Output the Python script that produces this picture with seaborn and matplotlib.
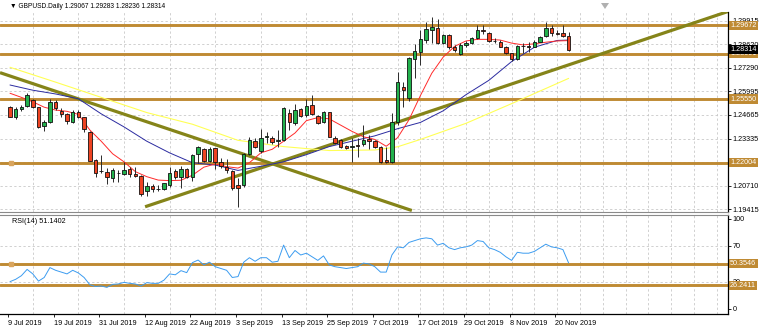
import matplotlib
matplotlib.use("Agg")
import matplotlib.pyplot as plt
import matplotlib.transforms as mtransforms
from matplotlib.patches import Polygon
import pandas as pd
import seaborn as sns

sns.set_theme(style="white")
plt.rcParams["font.family"] = ["Liberation Sans", "DejaVu Sans"]

# ---- data -------------------------------------------------------------
symbol = "GBPUSD.Daily"
dates = pd.bdate_range("2019-07-09", "2019-11-22")

opens = [1.2513, 1.2457, 1.2498, 1.2517, 1.2550, 1.2509, 1.2405, 1.2427, 1.2537, 1.2489,
         1.2472, 1.2429, 1.2483, 1.2454, 1.2373, 1.2215, 1.2154, 1.2150, 1.2113, 1.2142,
         1.2135, 1.2167, 1.2135, 1.2126, 1.2044, 1.2070, 1.2055, 1.2051, 1.2076, 1.2154,
         1.2118, 1.2163, 1.2118, 1.2249, 1.2277, 1.2210, 1.2280, 1.2202, 1.2178, 1.2154,
         1.2077, 1.2076, 1.2249, 1.2323, 1.2267, 1.2342, 1.2340, 1.2323, 1.2327, 1.2476,
         1.2420, 1.2498, 1.2465, 1.2520, 1.2461, 1.2429, 1.2482, 1.2340, 1.2327, 1.2293,
         1.2290, 1.2297, 1.2303, 1.2331, 1.2321, 1.2290, 1.2215, 1.2202, 1.2430, 1.2621,
         1.2560, 1.2777, 1.2820, 1.2885, 1.2941, 1.2954, 1.2867, 1.2913, 1.2848, 1.2807,
         1.2856, 1.2867, 1.2895, 1.2939, 1.2926, 1.2882, 1.2876, 1.2848, 1.2811, 1.2777,
         1.2854, 1.2850, 1.2848, 1.2876, 1.2908, 1.2951, 1.2924, 1.2923, 1.29067]
highs = [1.2516, 1.2509, 1.2522, 1.2588, 1.2556, 1.2513, 1.2439, 1.2554, 1.2550, 1.2504,
         1.2476, 1.2494, 1.2494, 1.2457, 1.2379, 1.2221, 1.2243, 1.2169, 1.2169, 1.2159,
         1.2206, 1.2178, 1.2174, 1.2131, 1.2094, 1.2079, 1.2076, 1.2089, 1.2178, 1.2165,
         1.2182, 1.2169, 1.2249, 1.2293, 1.2280, 1.2286, 1.2284, 1.2224, 1.2221, 1.2159,
         1.2113, 1.2256, 1.2345, 1.2336, 1.2386, 1.2373, 1.2349, 1.2383, 1.2509, 1.2500,
         1.2528, 1.2504, 1.2554, 1.2578, 1.2467, 1.2491, 1.2485, 1.2349, 1.2331, 1.2299,
         1.2336, 1.2336, 1.2411, 1.2355, 1.2327, 1.2293, 1.2290, 1.2476, 1.2705, 1.2653,
         1.2789, 1.2863, 1.2941, 1.2988, 1.3016, 1.3001, 1.2919, 1.2917, 1.2857, 1.2867,
         1.2882, 1.2904, 1.2969, 1.2969, 1.2932, 1.2895, 1.2885, 1.2852, 1.2814, 1.2857,
         1.2867, 1.2876, 1.2885, 1.2908, 1.2988, 1.2969, 1.2941, 1.2969, 1.29283]
lows = [1.2455, 1.2442, 1.2491, 1.2513, 1.2508, 1.2392, 1.2379, 1.2424, 1.2494, 1.2454,
        1.2416, 1.2420, 1.2448, 1.2374, 1.2210, 1.2118, 1.2141, 1.2081, 1.2090, 1.2094,
        1.2131, 1.2122, 1.2118, 1.2014, 1.2016, 1.2038, 1.2044, 1.2048, 1.2066, 1.2107,
        1.2061, 1.2113, 1.2100, 1.2200, 1.2206, 1.2204, 1.2167, 1.2169, 1.2141, 1.2048,
        1.1955, 1.2066, 1.2243, 1.2280, 1.2256, 1.2308, 1.2304, 1.2286, 1.2323, 1.2383,
        1.2411, 1.2457, 1.2457, 1.2467, 1.2414, 1.2424, 1.2342, 1.2305, 1.2284, 1.2275,
        1.2206, 1.2230, 1.2293, 1.2275, 1.2280, 1.2197, 1.2197, 1.2200, 1.2410, 1.2513,
        1.2547, 1.2671, 1.2746, 1.2867, 1.2867, 1.2861, 1.2861, 1.2833, 1.2820, 1.2802,
        1.2848, 1.2863, 1.2891, 1.2919, 1.2876, 1.2867, 1.2844, 1.2807, 1.2770, 1.2774,
        1.2811, 1.2820, 1.2844, 1.2872, 1.2904, 1.2908, 1.2913, 1.2900, 1.28236]
closes = [1.2457, 1.2498, 1.2513, 1.2578, 1.2513, 1.2401, 1.2429, 1.2541, 1.2504, 1.2472,
          1.2435, 1.2483, 1.2454, 1.2387, 1.2212, 1.2141, 1.2152, 1.2122, 1.2159, 1.2140,
          1.2159, 1.2135, 1.2126, 1.2023, 1.2070, 1.2053, 1.2053, 1.2085, 1.2141, 1.2122,
          1.2163, 1.2118, 1.2241, 1.2290, 1.2210, 1.2278, 1.2206, 1.2184, 1.2159, 1.2057,
          1.2057, 1.2249, 1.2327, 1.2286, 1.2336, 1.2347, 1.2318, 1.2327, 1.2504, 1.2426,
          1.2494, 1.2463, 1.2519, 1.2470, 1.2420, 1.2482, 1.2346, 1.2312, 1.2290, 1.2280,
          1.2295, 1.2293, 1.2327, 1.2321, 1.2290, 1.2206, 1.2202, 1.2429, 1.2650, 1.2606,
          1.2783, 1.2824, 1.2889, 1.2945, 1.2956, 1.2867, 1.2913, 1.2848, 1.2830, 1.2857,
          1.2871, 1.2895, 1.2941, 1.2936, 1.2882, 1.2878, 1.2848, 1.2811, 1.2777, 1.2852,
          1.2850, 1.2848, 1.2876, 1.2900, 1.2951, 1.2923, 1.2921, 1.2907, 1.28314]

# moving averages shown on the price window (bar index, value)
ma_fast_bar = list(range(0, 99, 2))
ma_fast = [1.2588, 1.2565, 1.2540, 1.2510, 1.2494, 1.2487, 1.2470, 1.2383, 1.2320, 1.2250,
           1.2205, 1.2150, 1.2122, 1.2103, 1.2100, 1.2102, 1.2130, 1.2175, 1.2193, 1.2178,
           1.2170, 1.2200, 1.2255, 1.2275, 1.2320, 1.2366, 1.2435, 1.2452, 1.2445, 1.2410,
           1.2375, 1.2345, 1.2330, 1.2292, 1.2340, 1.2440, 1.2575, 1.2700, 1.2790, 1.2850,
           1.2880, 1.2889, 1.2889, 1.2885, 1.2868, 1.2858, 1.2864, 1.2873, 1.2880, 1.2882]
ma_slow_bar = list(range(0, 97, 4)) + [98]
ma_slow = [1.2634, 1.2605, 1.2584, 1.2557, 1.2473, 1.2400, 1.2320, 1.2255, 1.2200, 1.2187,
           1.2157, 1.2180, 1.2205, 1.2245, 1.2290, 1.2320, 1.2350, 1.2390, 1.2425, 1.2490,
           1.2580, 1.2660, 1.2765, 1.2845, 1.2883, 1.2885]
ma_long_bar = [0, 8, 16, 24, 32, 40, 48, 56, 64, 68, 72, 80, 88, 98]
ma_long = [1.2733, 1.2650, 1.2565, 1.2480, 1.2415, 1.2325, 1.2290, 1.2268, 1.2271, 1.2289,
           1.2330, 1.2420, 1.2530, 1.2671]

rsi = [30.4, 33, 37, 44, 39, 31, 35, 46, 43, 41, 39, 43, 40, 35, 27, 25, 25.6, 24, 27.4, 27.8,
       29.6, 28.5, 27.8, 25.6, 29.3, 28.5, 28.5, 32, 39, 38, 42.6, 40.4, 51.5, 54.4, 49, 52, 47,
       45, 43, 35, 36, 52, 57, 53, 57, 57, 52, 53, 71, 57, 65, 60, 62, 58, 54, 59, 49, 47, 46,
       45, 46, 47, 51, 50, 47, 41, 41, 60, 69, 68, 74, 76, 78, 79, 78, 71, 73, 68, 66, 68, 69,
       71, 76, 75, 68, 66, 63, 58, 54, 63, 62, 62, 64, 68, 72, 69, 68, 66, 51.1402]

price_levels = [1.29672, 1.28091, 1.25550, 1.22004]
rsi_levels = [50.3546, 26.2411]
price_ticks = [1.29915, 1.28620, 1.27290, 1.25995, 1.24665, 1.23335, 1.22040, 1.20710, 1.19415]
rsi_ticks = [100, 70, 30, 0]
date_tick_bars = [0, 8, 16, 24, 32, 40, 48, 56, 64, 72, 80, 88, 96]
date_tick_labels = ["9 Jul 2019", "19 Jul 2019", "31 Jul 2019", "12 Aug 2019", "22 Aug 2019",
                    "3 Sep 2019", "13 Sep 2019", "25 Sep 2019", "7 Oct 2019", "17 Oct 2019",
                    "29 Oct 2019", "8 Nov 2019", "20 Nov 2019"]
# hand-drawn trend lines: (bar, price) anchors
trend_down = [(-1.75, 1.2703), (70.5, 1.1933)]
trend_up = [(23.7, 1.1954), (126.0, 1.3045)]

df = pd.DataFrame({"date": dates, "open": opens, "high": highs, "low": lows, "close": closes})
df["bar"] = range(len(df))

# ---- styling ------------------------------------------------------------
GREEN = "#22B14C"
RED = "#EE4322"
GOLD = "#BF8A33"
OLIVE = "#858419"
GRID = "#C4C4C4"
FS = 5.2

W, H = 765, 331
fig = plt.figure(figsize=(W / 100, H / 100), dpi=100)


def px_rect(x0, y0, x1, y1):
    return [x0 / W, 1 - y1 / H, (x1 - x0) / W, (y1 - y0) / H]


ax = fig.add_axes(px_rect(0, 12, 728, 212))
ax2 = fig.add_axes(px_rect(0, 215, 728, 314), sharex=ax)

px_price = 0.0005585
ax.set_ylim(1.19415 - 3 * px_price, 1.19415 + 197 * px_price)
ax2.set_ylim(-5.56, 104.44)
ax.set_xlim(-1.754, 125.96)

# vertical grid: every 8 bars on older history, every 4 bars on the recent part
vgrid = [v for v in range(4, 68, 8)] + list(range(68, 126, 4))

for a in (ax, ax2):
    a.set_facecolor("white")
    for s in ("left", "top"):
        a.spines[s].set_visible(False)
    a.spines["right"].set_color("black")
    a.spines["right"].set_linewidth(0.9)
    a.yaxis.tick_right()
    a.tick_params(axis="y", length=2, width=0.6, pad=1.5, labelsize=FS, colors="black")
    a.grid(False)
    for v in vgrid:
        a.axvline(v, color=GRID, lw=0.55, ls=(0, (3, 3)), zorder=0)

ax.spines["bottom"].set_color("#8A8A8A")
ax.spines["bottom"].set_linewidth(0.8)
ax2.spines["top"].set_visible(True)
ax2.spines["top"].set_color("#8A8A8A")
ax2.spines["top"].set_linewidth(0.8)
ax2.spines["bottom"].set_color("black")
ax2.spines["bottom"].set_linewidth(0.9)

ax.set_yticks(price_ticks)
# the 1.22040 label sits under the 1.22004 level tag
ax.set_yticklabels(["" if abs(t - 1.22040) < 1e-6 else f"{t:.5f}" for t in price_ticks])
for t in price_ticks:
    ax.axhline(t, color=GRID, lw=0.55, ls=(0, (3, 3)), zorder=0)
ax.tick_params(axis="x", bottom=False, labelbottom=False)

ax2.set_yticks(rsi_ticks)
ax2.set_yticklabels([str(t) for t in rsi_ticks])
for t in (70, 30):
    ax2.axhline(t, color=GRID, lw=0.55, ls=(0, (3, 3)), zorder=0)

ax2.set_xticks([b - 0.35 for b in date_tick_bars])
ax2.set_xticklabels(date_tick_labels)
ax2.tick_params(axis="x", length=2.5, width=0.6, pad=2, labelsize=FS, colors="black", bottom=True)
for lbl in ax2.get_xticklabels():
    lbl.set_horizontalalignment("left")

# ---- horizontal levels and trend lines -------------------------------------
for lv in price_levels:
    ax.axhline(lv, color=GOLD, lw=2.1, zorder=2)
for lv in rsi_levels:
    ax2.axhline(lv, color=GOLD, lw=2.1, zorder=2)

for (x0, y0), (x1, y1) in (trend_down, trend_up):
    ax.plot([x0, x1], [y0, y1], color=OLIVE, lw=2.3, solid_capstyle="butt", zorder=2.5)

# ---- moving averages -----------------------------------------------------------
sns.lineplot(x=ma_long_bar, y=ma_long, ax=ax, color="#FFFF55", lw=0.8, zorder=2.6)
sns.lineplot(x=ma_slow_bar, y=ma_slow, ax=ax, color="#2B2BA0", lw=0.7, zorder=2.7)
sns.lineplot(x=ma_fast_bar, y=ma_fast, ax=ax, color="#FF2A2A", lw=0.7, zorder=2.8)

# ---- candles -----------------------------------------------------------
ax.vlines(df["bar"], df["low"], df["high"], color="#2A2A2A", lw=0.7, zorder=3)
up = df[df["close"] >= df["open"]]
dn = df[df["close"] < df["open"]]
ax.bar(up["bar"], (up["close"] - up["open"]).clip(lower=0.00008), bottom=up["open"],
       width=0.6, color=GREEN, edgecolor="#111111", linewidth=0.6, zorder=4)
ax.bar(dn["bar"], (dn["close"] - dn["open"]), bottom=dn["open"],
       width=0.6, color=RED, edgecolor="#111111", linewidth=0.6, zorder=4)

# ---- RSI -----------------------------------------------------------------
sns.lineplot(x=df["bar"], y=rsi, ax=ax2, color="#3C9CF0", lw=0.7, zorder=3)
for a in (ax, ax2):
    a.set_xlabel("")
    a.set_ylabel("")

# anchors of the selected level lines
ax.plot([0.15], [price_levels[3]], marker="s", ms=2.6, color="#D9A55E", zorder=5)
ax2.plot([0.15], [rsi_levels[0]], marker="s", ms=2.6, color="#D9A55E", zorder=5)


# ---- right-hand price tags ---------------------------------------------------
def tag(a, value, text, fc):
    tr = mtransforms.blended_transform_factory(a.transAxes, a.transData)
    a.text(1.003, value, text, transform=tr, ha="left", va="center", fontsize=FS,
           color="white", clip_on=False, zorder=10,
           bbox=dict(boxstyle="square,pad=0.18", fc=fc, ec="none"))


for lv in price_levels:
    tag(ax, lv, f"{lv:.5f}", GOLD)
tag(ax, closes[-1], f"{closes[-1]:.5f}", "black")
for lv in rsi_levels:
    tag(ax2, lv, f"{lv:.4f}", GOLD)

# ---- captions ---------------------------------------------------------------
fig.text(10 / W, 1 - 7 / H,
         f"\u25bc {symbol} {opens[-1]:.5f} {highs[-1]:.5f} {lows[-1]:.5f} {closes[-1]:.5f}",
         fontsize=4.8, va="center", ha="left", color="black")
ax2.text(12 / 728, 0.93, f"RSI(14) {rsi[-1]:.4f}", transform=ax2.transAxes,
         fontsize=FS, va="center", ha="left", color="black")

# chart-shift marker at the top edge
fig.add_artist(Polygon([(601 / W, 1 - 3 / H), (609 / W, 1 - 3 / H), (605 / W, 1 - 9 / H)],
                       closed=True, transform=fig.transFigure, fc="#B0B0B0", ec="none"))

fig.savefig("out.png", dpi=100)
